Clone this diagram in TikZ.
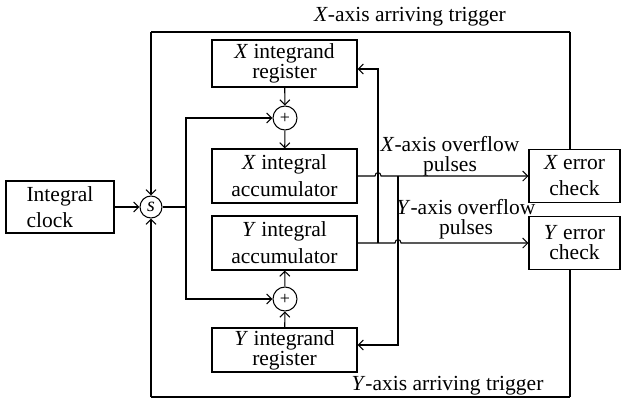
\documentclass[tikz,border=0pt]{standalone}
\usepackage{fontspec}
\setmainfont{Liberation Serif}
\usetikzlibrary{arrows.meta}
\begin{document}
\begin{tikzpicture}[x=1pt,y=-1pt,line width=1.05pt,
  >={Straight Barb[length=5pt,width=10pt]},
  box/.style={draw,inner sep=0pt,align=center,minimum width=145pt},
  loose/.style={font=\fontsize{21.5}{27}\selectfont},
  tight/.style={font=\fontsize{21.5}{20}\selectfont},
  sumnode/.style={draw,circle,inner sep=0pt,minimum size=24pt,font=\fontsize{18}{18}\selectfont},
  lbl/.style={inner sep=0pt,align=center}]
\useasboundingbox (0,0) rectangle (621,402);
% blocks
\node[box,tight,minimum height=47pt] (Xreg) at (284.5,63.5) {\textit{X} integrand\\register};
\node[box,loose,minimum height=54pt] (Xacc) at (284.5,176) {\textit{X} integral\\accumulator};
\node[box,loose,minimum height=54pt] (Yacc) at (284.5,243) {\textit{Y} integral\\accumulator};
\node[box,tight,minimum height=44pt] (Yreg) at (284.5,350) {\textit{Y} integrand\\register};
\node[draw,inner sep=0pt,align=left,minimum width=108pt,minimum height=52pt,font=\fontsize{21.5}{26}\selectfont] (clock) at (60,207) {Integral\\clock};
\node[box,minimum width=91pt,minimum height=53pt,font=\fontsize{21.5}{26}\selectfont] (Xerr) at (574.5,176) {\textit{X} error\\check};
\node[box,tight,minimum width=91pt,minimum height=53pt] (Yerr) at (574.5,243) {\textit{Y} error\\check};
% circles
\node[draw,circle,inner sep=0pt,minimum size=22pt,font=\fontsize{20}{20}\selectfont] (s) at (151,207) {\textit{s}};
\node[sumnode] (p1) at (285,118) {+};
\node[sumnode] (p2) at (285,299) {+};
% frame
\coordinate (tl) at (151,32);
\coordinate (tr) at (570,32);
\coordinate (bl) at (151,397);
\coordinate (br) at (570,397);
\draw (tl) -- (tr);
\draw (bl) -- (br);
\draw[->] (tl) -- (s);
\draw[->] (bl) -- (s);
\draw (tr) -- (tr |- Xerr.north);
\draw (br) -- (br |- Yerr.south);
% clock and distribution
\draw[->] (clock) -- (s);
\coordinate (dj) at (186,207);
\draw (s) -- (dj);
\draw[->] (dj) |- (p1);
\draw[->] (dj) |- (p2);
\draw[->] (Xreg) -- (p1);
\draw[->] (p1) -- (Xacc);
\draw[->] (Yreg) -- (p2);
\draw[->] (p2) -- (Yacc);
% X overflow
\coordinate (hxa) at (375,176);
\coordinate (hxb) at (381,176);
\coordinate (jx) at (398,176);
\draw[->] (Xacc.east) -- (hxa) .. controls (375,171.5) and (381,171.5) .. (hxb) -- (Xerr.west);
\coordinate (fx) at (398,345);
\draw[->] (jx) -- (fx) -- ([yshift=5pt]Yreg.east);
% Y overflow
\coordinate (hya) at (395,243);
\coordinate (hyb) at (401,243);
\coordinate (jy) at (378,243);
\draw[->] (Yacc.east) -- (hya) .. controls (395,238.5) and (401,238.5) .. (hyb) -- (Yerr.west);
\coordinate (fy) at (378,69);
\draw[->] (jy) -- (fy) -- ([yshift=-5.5pt]Xreg.east);
% labels
\node[lbl,font=\fontsize{21.5}{19.5}\selectfont] (xov) at (450,156) {\textit{X}-axis overflow\\pulses};
\node[lbl,font=\fontsize{21.5}{20}\selectfont] (yov) at (466,219) {\textit{Y}-axis overflow\\pulses};
\node[inner sep=0pt,anchor=base,font=\fontsize{21.5}{21}\selectfont] (xtr) at (410,21) {\textit{X}-axis arriving trigger};
\node[inner sep=0pt,anchor=base,font=\fontsize{21.5}{21}\selectfont] (ytr) at (447.5,390) {\textit{Y}-axis arriving trigger};
\end{tikzpicture}
\end{document}
